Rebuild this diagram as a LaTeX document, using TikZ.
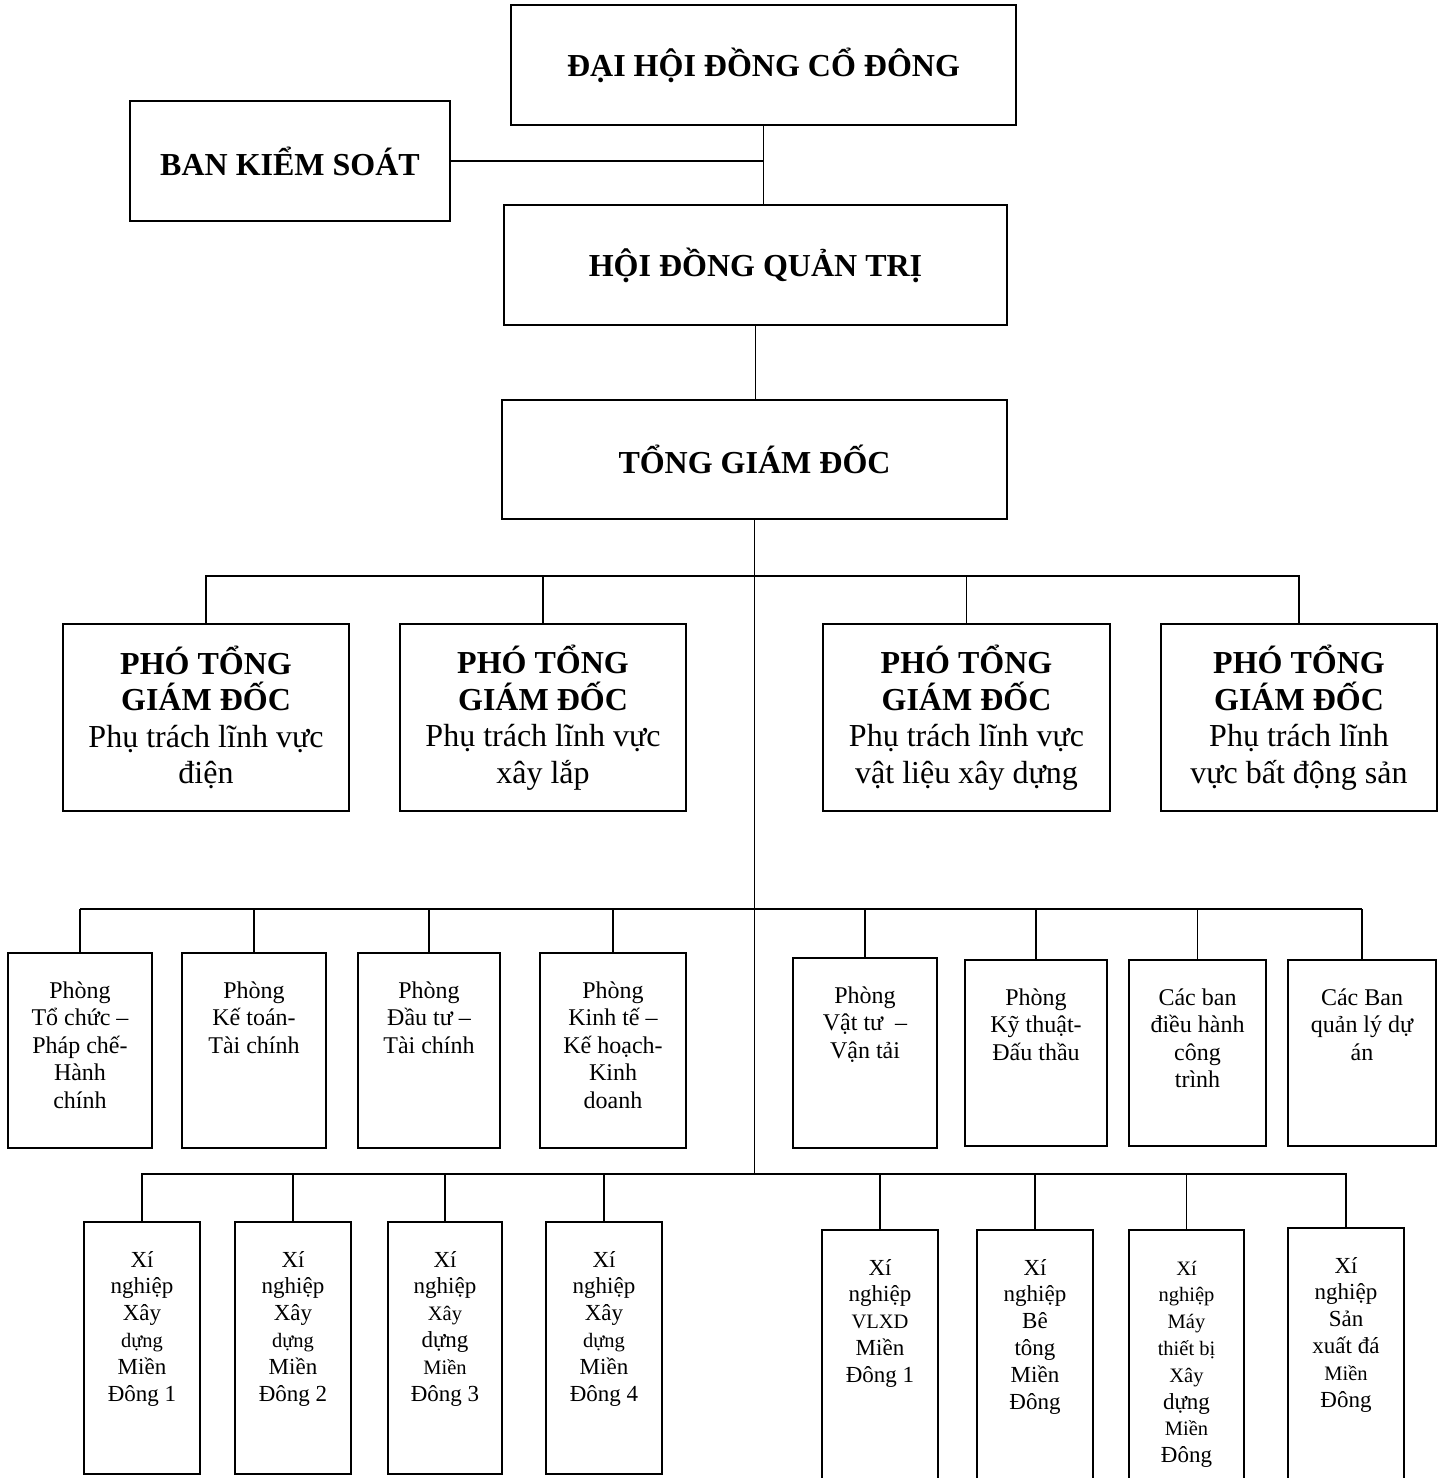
\documentclass[tikz,border=0pt]{standalone}
\usepackage{fontspec}
\setmainfont{Liberation Serif}
\tikzset{
  chief/.style={draw, line width=1.8pt, inner sep=0pt, align=center,
    font=\fontsize{32}{36.8}\selectfont\bfseries},
  deputy/.style={draw, line width=1.8pt, inner sep=0pt, align=center,
    minimum height=187pt, font=\fontsize{32}{36.5}\selectfont},
  dept/.style={draw, line width=1.8pt, inner sep=0pt, font=\fontsize{24}{27.6}\selectfont},
  unit/.style={draw, line width=1.8pt, inner sep=0pt, font=\fontsize{23}{26.8}\selectfont},
  link/.style={line width=1.6pt},
  mainbus/.style={line width=2.4pt}
}
\newcommand{\boxtext}[3]{\parbox[c][#2][t]{#1}{\centering\rule{0pt}{45pt}#3}}
\newcommand{\sm}[1]{{\fontsize{20.5}{26}\selectfont #1}}
\begin{document}
\begin{tikzpicture}[x=1pt,y=-1pt]
  \useasboundingbox (0,0) rectangle (1443,1478);
  \clip (0,0) rectangle (1443,1478);
  \draw
    (763.5,65) node[chief, minimum width=505pt, minimum height=120pt] (dhdcd){ĐẠI HỘI ĐỒNG CỔ ĐÔNG}
    (290,161) node[chief, minimum width=320pt, minimum height=120pt] (bks){BAN KIỂM SOÁT}
    (755.5,265) node[chief, minimum width=503pt, minimum height=120pt] (hdqt){HỘI ĐỒNG QUẢN TRỊ}
    (754.5,459.5) node[chief, minimum width=505pt, minimum height=119pt] (tgd){TỔNG GIÁM ĐỐC};
  \draw
    (206,717.5) node[deputy, minimum width=286pt] (p1){\textbf{PHÓ TỔNG}\\\textbf{GIÁM ĐỐC}\\Phụ trách lĩnh vực\\điện}
    (543,717.5) node[deputy, minimum width=286pt] (p2){\textbf{PHÓ TỔNG}\\\textbf{GIÁM ĐỐC}\\Phụ trách lĩnh vực\\xây lắp}
    (966.5,717.5) node[deputy, minimum width=287pt] (p3){\textbf{PHÓ TỔNG}\\\textbf{GIÁM ĐỐC}\\Phụ trách lĩnh vực\\vật liệu xây dựng}
    (1299,717.5) node[deputy, minimum width=276pt] (p4){\textbf{PHÓ TỔNG}\\\textbf{GIÁM ĐỐC}\\Phụ trách lĩnh\\vực bất động sản};
  \draw
    (80,1050.5) node[dept] (r1){\boxtext{144pt}{195pt}{Phòng\\Tổ chức –\\Pháp chế-\\Hành\\chính}}
    (254,1050.5) node[dept] (r2){\boxtext{144pt}{195pt}{Phòng\\Kế toán-\\Tài chính}}
    (429,1050.5) node[dept] (r3){\boxtext{142pt}{195pt}{Phòng\\Đầu tư –\\Tài chính}}
    (613,1050.5) node[dept] (r4){\boxtext{146pt}{195pt}{Phòng\\Kinh tế –\\Kế hoạch-\\Kinh\\doanh}}
    (865,1053) node[dept] (r5){\boxtext{144pt}{190pt}{Phòng\\Vật tư~ –\\Vận tải}}
    (1036,1053) node[dept] (r6){\boxtext{142pt}{186pt}{Phòng\\Kỹ thuật-\\Đấu thầu}}
    (1197.5,1053) node[dept] (r7){\boxtext{137pt}{186pt}{Các ban\\điều hành\\công\\trình}}
    (1362,1053) node[dept] (r8){\boxtext{148pt}{186pt}{Các Ban\\quản lý dự\\án}};
  \draw
    (142,1348) node[unit] (b1){\boxtext{116pt}{252pt}{Xí\\nghiệp\\Xây\\\sm{dựng}\\Miền\\Đông 1}}
    (293,1348) node[unit] (b2){\boxtext{116pt}{252pt}{Xí\\nghiệp\\Xây\\\sm{dựng}\\Miền\\Đông 2}}
    (445,1348) node[unit] (b3){\boxtext{114pt}{252pt}{Xí\\nghiệp\\\sm{Xây}\\dựng\\\sm{Miền}\\Đông 3}}
    (604,1348) node[unit] (b4){\boxtext{116pt}{252pt}{Xí\\nghiệp\\Xây\\\sm{dựng}\\Miền\\Đông 4}}
    (880,1360) node[unit] (b5){\boxtext{116pt}{260pt}{Xí\\nghiệp\\\sm{VLXD}\\Miền\\Đông 1}}
    (1035,1360) node[unit] (b6){\boxtext{116pt}{260pt}{Xí\\nghiệp\\Bê\\tông\\Miền\\Đông}}
    (1186.5,1360) node[unit] (b7){\boxtext{115pt}{260pt}{\sm{Xí}\\\sm{nghiệp}\\\sm{Máy}\\\sm{thiết bị}\\\sm{Xây}\\dựng\\\sm{Miền}\\Đông}}
    (1346,1359) node[unit] (b8){\boxtext{116pt}{262pt}{Xí\\nghiệp\\Sản\\xuất đá\\\sm{Miền}\\Đông}};
  \coordinate (j1) at (754.5,576);
  \coordinate (j2) at (754.5,909);
  \coordinate (j3) at (754.5,1174);
  \begin{scope}[link]
    \draw (dhdcd.south) -- (dhdcd.south |- hdqt.north);
    \draw (bks.east) -- (bks.east -| dhdcd.south);
    \draw (hdqt.south) -- (hdqt.south |- tgd.north);
    \draw (tgd.south) -- (j3);
    \draw (p1.north) |- (j1) -| (p4.north);
    \draw (p2.north) -- (p2.north |- j1);
    \draw (p3.north) -- (p3.north |- j1);
    \draw[mainbus] (r1.north |- j2) -- (r8.north |- j2);
    \draw (r1.north) -- (r1.north |- j2);
    \draw (r2.north) -- (r2.north |- j2);
    \draw (r3.north) -- (r3.north |- j2);
    \draw (r4.north) -- (r4.north |- j2);
    \draw (r5.north) -- (r5.north |- j2);
    \draw (r6.north) -- (r6.north |- j2);
    \draw (r7.north) -- (r7.north |- j2);
    \draw (r8.north) -- (r8.north |- j2);
    \draw (b1.north) |- (j3) -| (b8.north);
    \draw (b2.north) -- (b2.north |- j3);
    \draw (b3.north) -- (b3.north |- j3);
    \draw (b4.north) -- (b4.north |- j3);
    \draw (b5.north) -- (b5.north |- j3);
    \draw (b6.north) -- (b6.north |- j3);
    \draw (b7.north) -- (b7.north |- j3);
  \end{scope}
\end{tikzpicture}
\end{document}
